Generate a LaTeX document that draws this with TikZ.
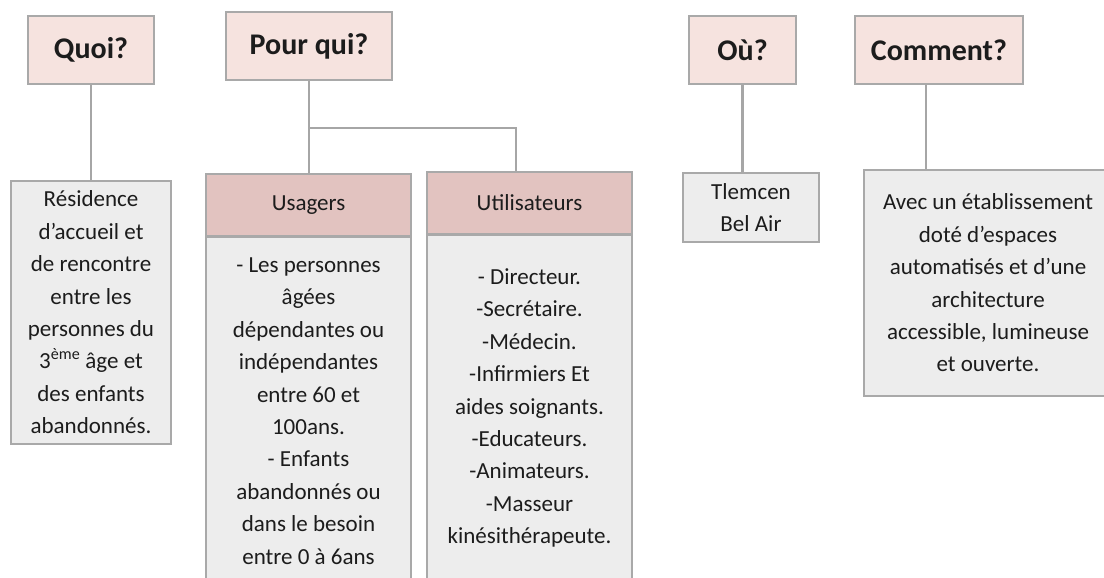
\documentclass[tikz,border=0pt]{standalone}
\usepackage{fontspec}
\setmainfont{Carlito}
\usepackage{tikz}
\usetikzlibrary{positioning}
\definecolor{MapBorder}{HTML}{A9A9A9}
\definecolor{MapLink}{HTML}{A6A6A6}
\definecolor{MapQuestion}{HTML}{F6E3DF}
\definecolor{MapHead}{HTML}{E2C3C0}
\definecolor{MapBody}{HTML}{EDEDED}
\definecolor{MapInk}{HTML}{1C1C1C}

\begin{document}
\begin{tikzpicture}[x=1pt,y=-1pt,
  qbox/.style={draw=MapBorder,line width=1.5pt,fill=MapQuestion,text=MapInk,inner sep=0pt,minimum height=68pt,font=\fontsize{30}{36}\selectfont\bfseries},
  hbox/.style={draw=MapBorder,line width=1.5pt,fill=MapHead,text=MapInk,inner sep=0pt,minimum width=205pt,minimum height=62pt,font=\fontsize{23}{32.4}\selectfont},
  abox/.style={draw=MapBorder,line width=1.5pt,fill=MapBody,text=MapInk,inner sep=0pt,align=flush center,font=\fontsize{23}{32.4}\selectfont},
  link/.style={draw=MapLink,line width=2.8pt}]
  \useasboundingbox (0,0) rectangle (1104,578);
  \clip (0,0) rectangle (1104,578);

  \node[qbox,minimum width=126pt] (quoi) at (91,50) {Quoi?};
  \node[qbox,minimum width=166pt] (pourqui) at (309,46) {Pour qui?};
  \node[qbox,minimum width=107pt] (ou) at (742.5,50) {Où?};
  \node[qbox,minimum width=168pt] (comment) at (939,50) {Comment?};

  \node[abox,minimum width=160pt,minimum height=263pt] (residence) at (91,312.5)
    {Résidence\\d’accueil et\\de rencontre\\entre les\\personnes du\\3\textsuperscript{ème} âge et\\des enfants\\abandonnés.};

  \node[hbox] (usagers) at (308.5,205) {Usagers};
  \node[hbox] (utilisateurs) at (529.5,203) {Utilisateurs};
  \node[abox,anchor=north,text width=195pt,minimum width=205pt,text height=35pt,text depth=330pt] (usbody) at (usagers.south)
    {- Les personnes\\âgées\\dépendantes ou\\indépendantes\\entre 60 et\\100ans.\\- Enfants\\abandonnés ou\\dans le besoin\\entre 0 à 6ans};
  \node[abox,anchor=north,text width=195pt,minimum width=205pt,text height=49pt,text depth=320pt] (utbody) at (utilisateurs.south)
    {- Directeur.\\-Secrétaire.\\-Médecin.\\-Infirmiers Et\\aides soignants.\\-Educateurs.\\-Animateurs.\\-Masseur\\kinésithérapeute.};

  \node[abox,minimum width=136pt,minimum height=69pt] (tlemcen) at (751,207.5) {Tlemcen\\Bel Air};
  \node[abox,minimum width=248pt,minimum height=226pt] (avec) at (988,283)
    {Avec un établissement\\doté d’espaces\\automatisés et d’une\\architecture\\accessible, lumineuse\\et ouverte.};

  \coordinate (bar) at (516,128);
  \draw[link] (quoi.south) -- (quoi.south |- residence.north);
  \draw[link] (pourqui.south) -- (pourqui.south |- usagers.north);
  \draw[link] (pourqui.south |- bar) -- (bar) -- (bar |- utilisateurs.north);
  \draw[link] (ou.south) -- (ou.south |- tlemcen.north);
  \draw[link] ([xshift=-13pt]comment.south) -- ([xshift=-13pt]comment.south |- avec.north);
\end{tikzpicture}
\end{document}
